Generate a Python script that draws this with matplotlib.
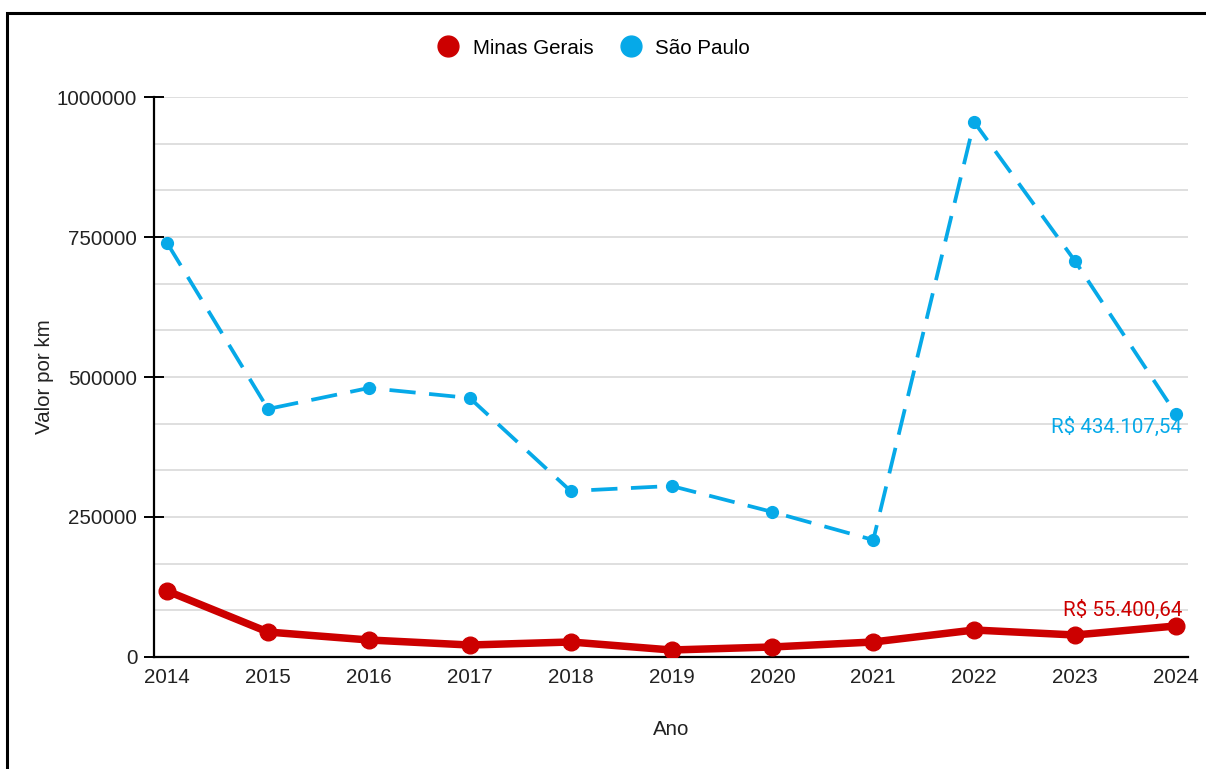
import matplotlib
matplotlib.use("Agg")
import matplotlib.pyplot as plt
from matplotlib.lines import Line2D
from matplotlib.patches import Rectangle

anos = [2014, 2015, 2016, 2017, 2018, 2019, 2020, 2021, 2022, 2023, 2024]
minas_gerais = [117900, 44600, 30400, 21400, 26800, 12500, 17900, 26800, 48200, 39300, 55400.64]
sao_paulo = [739300, 442900, 480400, 462500, 296400, 305400, 259000, 209000, 955400, 707100, 434107.54]

y_ticks = [0, 250000, 500000, 750000, 1000000]
y_grid = [83333.33 * i for i in range(13)]

rotulo_mg = "R$ 55.400,64"
rotulo_sp = "R$ 434.107,54"

cor_mg = "#cc0000"
cor_sp = "#06a9e8"

plt.rcParams["font.family"] = ["Liberation Sans", "DejaVu Sans"]
fs = 14.8

fig = plt.figure(figsize=(12.06, 7.69), dpi=100)
ax = fig.add_axes([154 / 1206, 1 - 657 / 769, (1188 - 154) / 1206, (657 - 97) / 769])

# moldura externa
fig.patches.append(Rectangle((7 / 1206, -0.05), 1.1, 1 - 13 / 769 + 0.05,
                             transform=fig.transFigure, fill=False,
                             edgecolor="black", linewidth=2.2, clip_on=False))

for g in y_grid[1:]:
    ax.axhline(g, color="#d6d6d6", linewidth=1.1, zorder=0)

ax.plot(anos, sao_paulo, color=cor_sp, linewidth=2.7, marker="o", markersize=8.5,
        dashes=(7.0, 3.6), zorder=3)
ax.plot(anos, minas_gerais, color=cor_mg, linewidth=5.4, marker="o", markersize=12,
        solid_capstyle="round", zorder=4)

ax.text(anos[-1] + 0.06, sao_paulo[-1] - 5000, rotulo_sp, color=cor_sp, ha="right", va="top",
        fontsize=fs, family=["Roboto", "DejaVu Sans"])
ax.text(anos[-1] + 0.06, minas_gerais[-1] + 11000, rotulo_mg, color=cor_mg, ha="right", va="bottom",
        fontsize=fs, family=["Roboto", "DejaVu Sans"])

ax.set_xlim(2013.87, 2024.12)
ax.set_ylim(0, 1000000)
ax.set_xticks(anos)
ax.set_xticklabels([str(a) for a in anos])
ax.set_yticks(y_ticks)
ax.set_yticklabels([str(v) for v in y_ticks])

for s in ("top", "right"):
    ax.spines[s].set_visible(False)
ax.spines["left"].set_linewidth(1.6)
ax.spines["bottom"].set_linewidth(1.6)

ax.tick_params(axis="y", direction="inout", length=14, width=1.4, pad=5, labelsize=fs)
ax.tick_params(axis="x", length=0, pad=8, labelsize=fs)
for lbl in ax.get_xticklabels() + ax.get_yticklabels():
    lbl.set_color("#222222")

ax.set_xlabel("Ano", fontsize=fs, labelpad=24, color="#222222")
ax.set_ylabel("Valor por km", fontsize=fs, labelpad=2, color="#222222")

handles = [
    Line2D([], [], linestyle="none", marker="o", markersize=15, color=cor_mg),
    Line2D([], [], linestyle="none", marker="o", markersize=15, color=cor_sp),
]
fig.legend(handles, ["Minas Gerais", "São Paulo"], loc="center",
           bbox_to_anchor=(593 / 1206, 1 - 48 / 769), ncol=2, frameon=False,
           fontsize=fs, handletextpad=0.6, columnspacing=1.2, handlelength=1.2)

fig.savefig("out.png", dpi=100)
